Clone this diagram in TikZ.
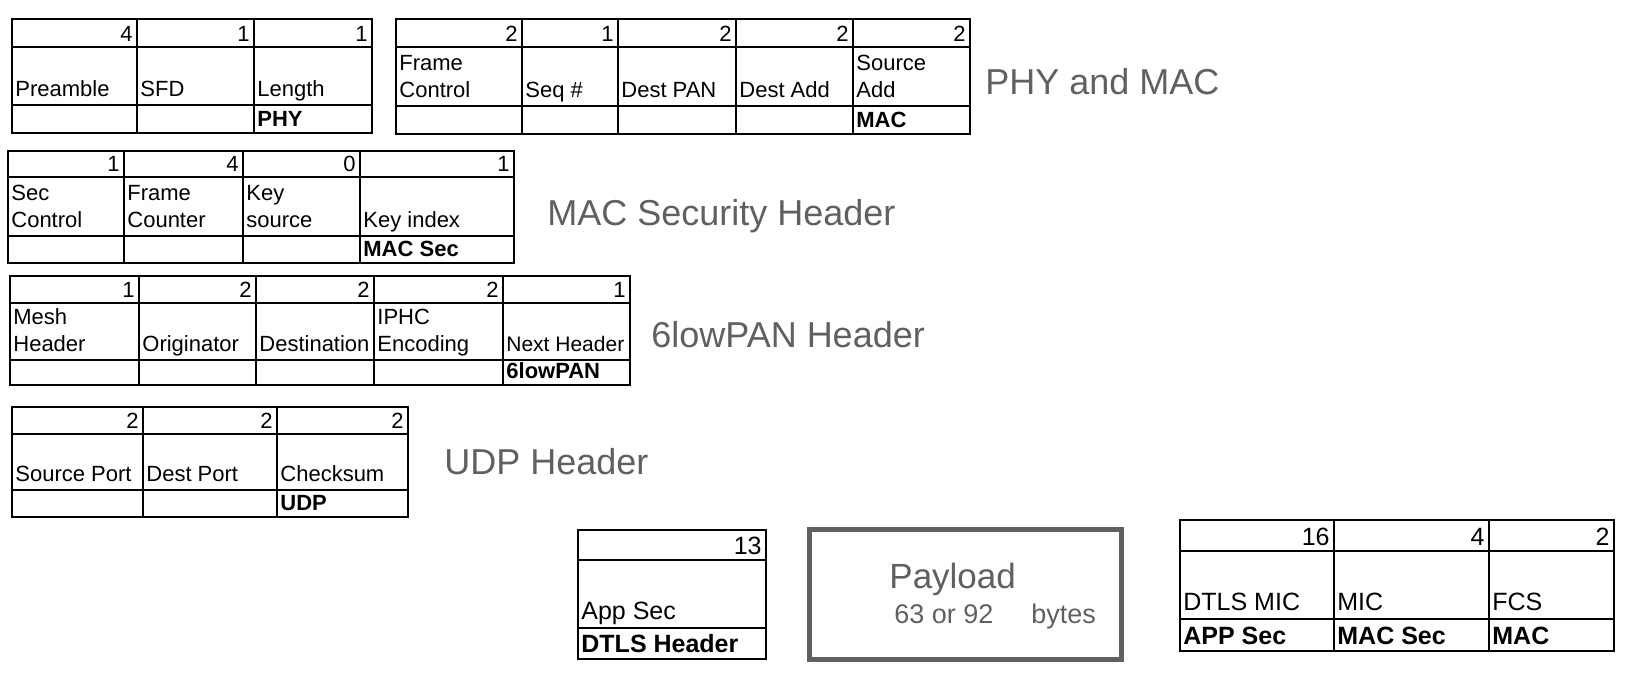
\documentclass[tikz,border=0pt]{standalone}
\usepackage{fontspec}
\setmainfont{Liberation Sans}
\definecolor{ttlgray}{RGB}{96,96,96}
\begin{document}
\begin{tikzpicture}[x=0.5pt,y=0.5pt,yscale=-1,xscale=1,
	cell/.style={line width=0.9pt},
	tagline/.style={line width=1.3pt},
	num/.style={anchor=base east,inner sep=0pt,font=\fontsize{11}{13.5}\selectfont},
	lbl/.style={anchor=south west,inner sep=0pt,text depth=0pt,align=left,font=\fontsize{11}{13.5}\selectfont},
	tag/.style={anchor=base west,inner sep=0pt,font=\fontsize{11}{13.5}\selectfont\bfseries},
	bignum/.style={num,font=\fontsize{12.5}{15}\selectfont},
	biglbl/.style={lbl,font=\fontsize{12.5}{15}\selectfont},
	bigtag/.style={tag,font=\fontsize{12.5}{15}\selectfont\bfseries},
	ttl/.style={anchor=base west,inner sep=0pt,text=ttlgray,font=\fontsize{18}{22}\selectfont}]
	\useasboundingbox (0,0) rectangle (1626,676);

	% PHY
	\draw [cell] (12,19) -- (372,19) -- (372,133) -- (12,133) -- cycle;
	\draw [cell] (12,47) -- (372,47);
	\draw [tagline] (12,105) -- (372,105);
	\draw [cell] (137,19) -- (137,133) (254,19) -- (254,133);
	\draw (133,41) node (phyA) [num] {4};
	\draw (250,41) node (phyB) [num] {1};
	\draw (368,41) node (phyC) [num] {1};
	\draw (15,97) node (phyPre) [lbl] {Preamble};
	\draw (140,97) node (phySfd) [lbl] {SFD};
	\draw (257,97) node (phyLen) [lbl] {Length};
	\draw (257,126) node (phyTag) [tag] {PHY};

	% MAC
	\draw [cell] (396,19) -- (970,19) -- (970,134) -- (396,134) -- cycle;
	\draw [cell] (396,47) -- (970,47);
	\draw [tagline] (396,106) -- (970,106);
	\draw [cell] (522,19) -- (522,134) (618,19) -- (618,134) (736,19) -- (736,134) (853,19) -- (853,134);
	\draw (518,41) node (macA) [num] {2};
	\draw (614,41) node (macB) [num] {1};
	\draw (732,41) node (macC) [num] {2};
	\draw (849,41) node (macD) [num] {2};
	\draw (966,41) node (macE) [num] {2};
	\draw (399,98) node (macFc) [lbl] {Frame\\Control};
	\draw (525,98) node (macSeq) [lbl] {Seq \#};
	\draw (621,98) node (macPan) [lbl] {Dest PAN};
	\draw (739,98) node (macDst) [lbl] {Dest Add};
	\draw (856,98) node (macSrc) [lbl] {Source\\Add};
	\draw (856,127) node (macTag) [tag] {MAC};
	\draw (985,94) node (ttlPhy) [ttl] {PHY and MAC};

	% MAC security header
	\draw [cell] (8,151) -- (514,151) -- (514,263) -- (8,263) -- cycle;
	\draw [cell] (8,177) -- (514,177);
	\draw [tagline] (8,236) -- (514,236);
	\draw [cell] (124,151) -- (124,263) (243,151) -- (243,263) (360,151) -- (360,263);
	\draw (120,171) node (secA) [num] {1};
	\draw (239,171) node (secB) [num] {4};
	\draw (356,171) node (secC) [num] {0};
	\draw (510,171) node (secD) [num] {1};
	\draw (11,228) node (secCtl) [lbl] {Sec\\Control};
	\draw (127,228) node (secCnt) [lbl] {Frame\\Counter};
	\draw (246,228) node (secKs) [lbl] {Key\\source};
	\draw (363,228) node (secKi) [lbl] {Key index};
	\draw (363,256) node (secTag) [tag] {MAC Sec};
	\draw (547,225) node (ttlSec) [ttl] {MAC Security Header};

	% 6lowPAN header
	\draw [cell] (10,276) -- (630,276) -- (630,385) -- (10,385) -- cycle;
	\draw [cell] (10,303) -- (630,303);
	\draw [tagline] (10,360) -- (630,360);
	\draw [cell] (139,276) -- (139,385) (256,276) -- (256,385) (374,276) -- (374,385) (503,276) -- (503,385);
	\draw (135,297) node (lowA) [num] {1};
	\draw (252,297) node (lowB) [num] {2};
	\draw (370,297) node (lowC) [num] {2};
	\draw (499,297) node (lowD) [num] {2};
	\draw (626,297) node (lowE) [num] {1};
	\draw (13,352) node (lowMesh) [lbl] {Mesh\\Header};
	\draw (142,352) node (lowOrg) [lbl] {Originator};
	\draw (259,352) node (lowDst) [lbl] {Destination};
	\draw (377,352) node (lowIphc) [lbl] {IPHC\\Encoding};
	\draw (506,352) node (lowNext) [lbl,font=\fontsize{10.5}{13.5}\selectfont] {Next Header};
	\draw (506,378) node (lowTag) [tag] {6lowPAN};
	\draw (651,347) node (ttlLow) [ttl] {6lowPAN Header};

	% UDP header
	\draw [cell] (12,407) -- (408,407) -- (408,517) -- (12,517) -- cycle;
	\draw [cell] (12,434) -- (408,434);
	\draw [tagline] (12,490) -- (408,490);
	\draw [cell] (143,407) -- (143,517) (277,407) -- (277,517);
	\draw (139,428) node (udpA) [num] {2};
	\draw (273,428) node (udpB) [num] {2};
	\draw (404,428) node (udpC) [num] {2};
	\draw (15,482) node (udpSrc) [lbl] {Source Port};
	\draw (146,482) node (udpDst) [lbl] {Dest Port};
	\draw (280,482) node (udpSum) [lbl] {Checksum};
	\draw (280,510) node (udpTag) [tag] {UDP};
	\draw (444,474) node (ttlUdp) [ttl] {UDP Header};

	% DTLS header
	\draw [cell] (578,530) -- (766,530) -- (766,659) -- (578,659) -- cycle;
	\draw [cell] (578,560) -- (766,560);
	\draw [tagline] (578,628) -- (766,628);
	\draw (762,554) node (dtlsA) [bignum] {13};
	\draw (581,620) node (dtlsApp) [biglbl] {App Sec};
	\draw (581,652) node (dtlsTag) [bigtag] {DTLS Header};

	% payload
	\draw [draw=ttlgray,line width=2.5pt] (809.5,529.5) -- (1121.5,529.5) -- (1121.5,659.5) -- (809.5,659.5) -- cycle;
	\draw (889,588) node (pay) [ttl,font=\fontsize{17.5}{21}\selectfont] {Payload};
	\draw (894,623) node (paySize) [ttl,font=\fontsize{13.5}{16}\selectfont] {63 or 92\hspace{19pt}bytes};

	% trailer
	\draw [cell] (1180,520) -- (1614,520) -- (1614,651) -- (1180,651) -- cycle;
	\draw [cell] (1180,551) -- (1614,551);
	\draw [tagline] (1180,619) -- (1614,619);
	\draw [cell] (1334,520) -- (1334,651) (1489,520) -- (1489,651);
	\draw (1330,545) node (micA) [bignum] {16};
	\draw (1485,545) node (micB) [bignum] {4};
	\draw (1610,545) node (micC) [bignum] {2};
	\draw (1183,611) node (micDtls) [biglbl] {DTLS MIC};
	\draw (1337,611) node (micMac) [biglbl] {MIC};
	\draw (1492,611) node (micFcs) [biglbl] {FCS};
	\draw (1183,644) node (micTagA) [bigtag] {APP Sec};
	\draw (1337,644) node (micTagB) [bigtag] {MAC Sec};
	\draw (1492,644) node (micTagC) [bigtag] {MAC};
\end{tikzpicture}
\end{document}
